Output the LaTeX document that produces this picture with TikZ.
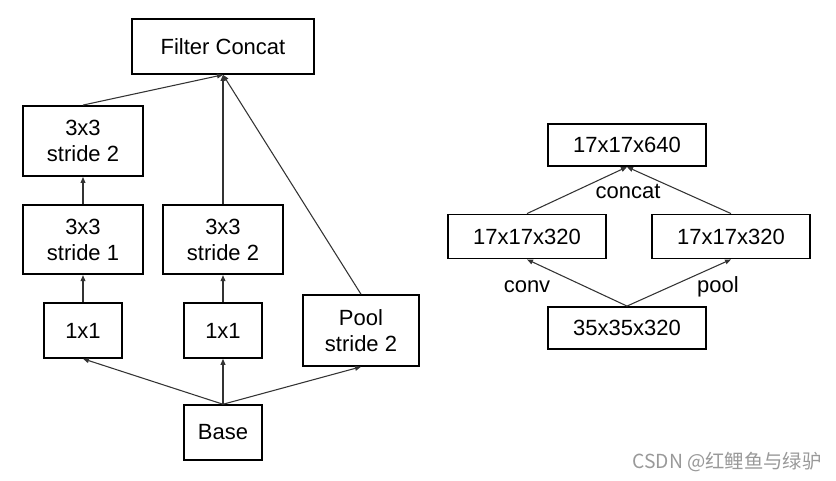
\documentclass[tikz,border=0pt]{standalone}
\usepackage{fontspec}
\setmainfont{Liberation Sans}
\newfontfamily\cjk{Noto Sans CJK SC}
\usetikzlibrary{arrows.meta}

\begin{document}
\begin{tikzpicture}[x=0.75pt,y=-0.75pt,
    boite/.style={draw, line width=1.4pt, inner sep=0pt, align=center,
        font=\fontsize{16.5}{19.5}\selectfont},
    fleche/.style={-{Triangle[length=4.5pt,width=3.6pt]}, line width=0.8pt, draw=black!80},
    etiq/.style={anchor=base, font=\fontsize{16.5}{19.5}\selectfont}]
    \useasboundingbox (0,0) rectangle (836,480);
    % bloc de gauche
    \node[boite, minimum width=136.5pt, minimum height=41pt] (fc) at (223,46.5) {Filter Concat};
    \node[boite, minimum width=90pt, minimum height=52.5pt] (a3) at (83,141) {3x3\\stride 2};
    \node[boite, minimum width=90pt, minimum height=52pt] (a2) at (83,239.5) {3x3\\stride 1};
    \node[boite, minimum width=90pt, minimum height=52pt] (b2) at (223,239.5) {3x3\\stride 2};
    \node[boite, minimum width=58.5pt, minimum height=41pt] (a1) at (83,330.5) {1x1};
    \node[boite, minimum width=58.5pt, minimum height=41pt] (b1) at (223,330.5) {1x1};
    \node[boite, minimum width=87pt, minimum height=53pt] (pool) at (361,330.5) {Pool\\stride 2};
    \node[boite, minimum width=58.5pt, minimum height=41pt] (base) at (223,432.5) {Base};
    \draw[fleche] (base.north) -- (a1.south);
    \draw[fleche] (base.north) -- (b1.south);
    \draw[fleche] (base.north) -- (pool.south);
    \draw[fleche] (a1) -- (a2);
    \draw[fleche] (b1) -- (b2);
    \draw[fleche] (a2) -- (a3);
    \draw[fleche] (a3.north) -- (fc.south);
    \draw[fleche] (b2.north) -- (fc.south);
    \draw[fleche] (pool.north) -- (fc.south);
    % bloc de droite
    \node[boite, minimum width=118pt, minimum height=31.5pt] (t640) at (627,145) {17x17x640};
    \node[boite, minimum width=119pt, minimum height=33pt] (l320) at (527,236.5) {17x17x320};
    \node[boite, minimum width=118pt, minimum height=33pt] (r320) at (731,236.5) {17x17x320};
    \node[boite, minimum width=118pt, minimum height=31.5pt] (b35) at (627,328) {35x35x320};
    \draw[fleche] (b35.north) -- (l320.south);
    \draw[fleche] (b35.north) -- (r320.south);
    \draw[fleche] (l320.north) -- (t640.south);
    \draw[fleche] (r320.north) -- (t640.south);
    \node[etiq] (concat) at (628,198) {concat};
    \node[etiq] (conv) at (527,292) {conv};
    \node[etiq] (poolt) at (718,292) {pool};
    % filigrane
    \node[anchor=base, text=black!40, font=\cjk\fontsize{14.5}{17}\selectfont] (wm) at (727,468) {CSDN @红鲤鱼与绿驴};
\end{tikzpicture}
\end{document}
